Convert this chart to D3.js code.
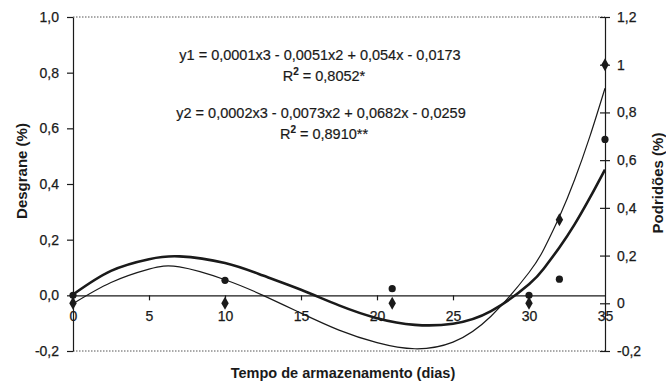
<!DOCTYPE html>
<html>
<head>
<meta charset="utf-8">
<script src="https://cdn.jsdelivr.net/npm/d3@7"></script>
<style>
  html, body { margin: 0; padding: 0; background: #fff; }
  svg { display: block; font-family: "Liberation Sans", Arial, sans-serif; }
</style>
</head>
<body>
<svg id="chart" width="666" height="383"></svg>
<script>
// ---- data ----
const days = [0, 10, 21, 30, 32, 35];
const desgrane = [0, 0.054, 0.024, 0, 0.058, 0.56];      // left axis, circles
const podridoes = [0, 0, 0, 0, 0.35, 1.0];               // right axis, diamonds

// fitted curves (left-axis units)
const curveDays = [0, 2.5, 5, 7, 10, 12.5, 15, 17.5, 20, 22.5, 25, 27.5, 30, 31, 32, 33, 34, 35];
const fitThick  = [0.003, 0.088, 0.130, 0.140, 0.116, 0.071, 0.020, -0.036, -0.082, -0.106, -0.102, -0.057, 0.040, 0.098, 0.172, 0.255, 0.350, 0.452];
const fitThin   = [-0.030, 0.046, 0.094, 0.102, 0.056, 0.000, -0.064, -0.125, -0.170, -0.192, -0.168, -0.075, 0.082, 0.168, 0.282, 0.415, 0.570, 0.744];

const xTicks = [0, 5, 10, 15, 20, 25, 30, 35];
const leftTicks = [-0.2, 0, 0.2, 0.4, 0.6, 0.8, 1.0];
const leftTickLabels = ["-0,2", "0,0", "0,2", "0,4", "0,6", "0,8", "1,0"];
const rightTicks = [-0.2, 0, 0.2, 0.4, 0.6, 0.8, 1.0, 1.2];
const rightTickLabels = ["-0,2", "0", "0,2", "0,4", "0,6", "0,8", "1", "1,2"];

const eq1 = "y1 = 0,0001x3 - 0,0051x2 + 0,054x - 0,0173";
const r1 = "0,8052*";
const eq2 = "y2 = 0,0002x3 - 0,0073x2 + 0,0682x - 0,0259";
const r2 = "0,8910**";

const xTitle = "Tempo de armazenamento (dias)";
const yLeftTitle = "Desgrane (%)";
const yRightTitle = "Podridões (%)";

// ---- layout ----
const L = 73, R = 605, T = 17, B = 351;
const ink = "#1a1a1a";
const svg = d3.select("#chart");

const x = d3.scaleLinear().domain([0, 35]).range([L, R]);
const yL = d3.scaleLinear().domain([-0.2, 1.0]).range([B, T]);
const yR = d3.scaleLinear().domain([-0.2, 1.2]).range([B, T]);

// dotted top & bottom frame
[T, B].forEach(yy => {
  svg.append("line").attr("x1", L).attr("x2", R).attr("y1", yy).attr("y2", yy)
    .attr("stroke", "#555").attr("stroke-width", 1).attr("stroke-dasharray", "1.5,1.5");
});

// left axis
const gL = svg.append("g").attr("transform", `translate(${L},0)`)
  .call(d3.axisLeft(yL).tickValues(leftTicks).tickFormat((d, i) => leftTickLabels[i])
    .tickSize(6).tickSizeOuter(0).tickPadding(8));
// right axis
const gR = svg.append("g").attr("transform", `translate(${R},0)`)
  .call(d3.axisRight(yR).tickValues(rightTicks).tickFormat((d, i) => rightTickLabels[i])
    .tickSize(5).tickSizeOuter(0).tickPadding(7));
gR.selectAll(".tick line").attr("x1", -5);
// x axis along zero line
const gX = svg.append("g").attr("transform", `translate(0,${yL(0)})`)
  .call(d3.axisBottom(x).tickValues(xTicks).tickFormat(d3.format("d"))
    .tickSize(5).tickSizeOuter(0).tickPadding(11));

[gL, gR, gX].forEach(g => {
  g.selectAll("path.domain").attr("stroke", ink).attr("stroke-width", 1.2);
  g.selectAll(".tick line").attr("stroke", ink).attr("stroke-width", 1.2);
  g.selectAll(".tick text").attr("fill", ink).style("font-size", "14px")
    .attr("stroke", ink).attr("stroke-width", 0.25)
    .style("font-family", "Liberation Sans, Arial, sans-serif");
});
gX.selectAll(".tick line").filter(d => d === 0 || d === 35).remove();

// fitted curves
const lineL = d3.line().x((d) => x(d[0])).y((d) => yL(d[1])).curve(d3.curveNatural);
svg.append("path").datum(curveDays.map((d, i) => [d, fitThin[i]]))
  .attr("d", lineL).attr("fill", "none").attr("stroke", ink).attr("stroke-width", 1.2);
svg.append("path").datum(curveDays.map((d, i) => [d, fitThick[i]]))
  .attr("d", lineL).attr("fill", "none").attr("stroke", ink).attr("stroke-width", 2.6);

// points
svg.selectAll("circle.pt").data(days.map((d, i) => [d, desgrane[i]])).enter()
  .append("circle").attr("class", "pt")
  .attr("cx", d => x(d[0])).attr("cy", d => yL(d[1])).attr("r", 3.6).attr("fill", ink);
svg.selectAll("path.pt").data(days.map((d, i) => [d, podridoes[i]])).enter()
  .append("path").attr("class", "pt")
  .attr("transform", d => `translate(${x(d[0])},${yR(d[1])})`)
  .attr("d", d3.symbol().type(d3.symbolDiamond).size(48)).attr("fill", ink);

// equations
const eqG = svg.append("g").attr("fill", ink).attr("stroke", ink).attr("stroke-width", 0.2)
  .style("font-size", "14.5px").attr("text-anchor", "middle");
eqG.append("text").attr("x", 320).attr("y", 60).text(eq1);
const t1 = eqG.append("text").attr("x", 324).attr("y", 81);
t1.append("tspan").text("R");
t1.append("tspan").attr("dy", -6).style("font-size", "10px").style("font-weight", "bold").text("2");
t1.append("tspan").attr("dy", 6).text(" = " + r1);
eqG.append("text").attr("x", 321).attr("y", 118).text(eq2);
const t2 = eqG.append("text").attr("x", 324).attr("y", 139);
t2.append("tspan").text("R");
t2.append("tspan").attr("dy", -6).style("font-size", "10px").style("font-weight", "bold").text("2");
t2.append("tspan").attr("dy", 6).text(" = " + r2);

// titles
svg.append("text").attr("x", 343).attr("y", 378).attr("text-anchor", "middle")
  .attr("fill", ink).style("font-size", "14.5px").style("font-weight", "bold").text(xTitle);
svg.append("text").attr("transform", "translate(27,171) rotate(-90)").attr("text-anchor", "middle")
  .attr("fill", ink).style("font-size", "15px").style("font-weight", "bold").text(yLeftTitle);
svg.append("text").attr("transform", "translate(663,183) rotate(-90)").attr("text-anchor", "middle")
  .attr("fill", ink).style("font-size", "15px").style("font-weight", "bold").text(yRightTitle);
</script>
</body>
</html>
